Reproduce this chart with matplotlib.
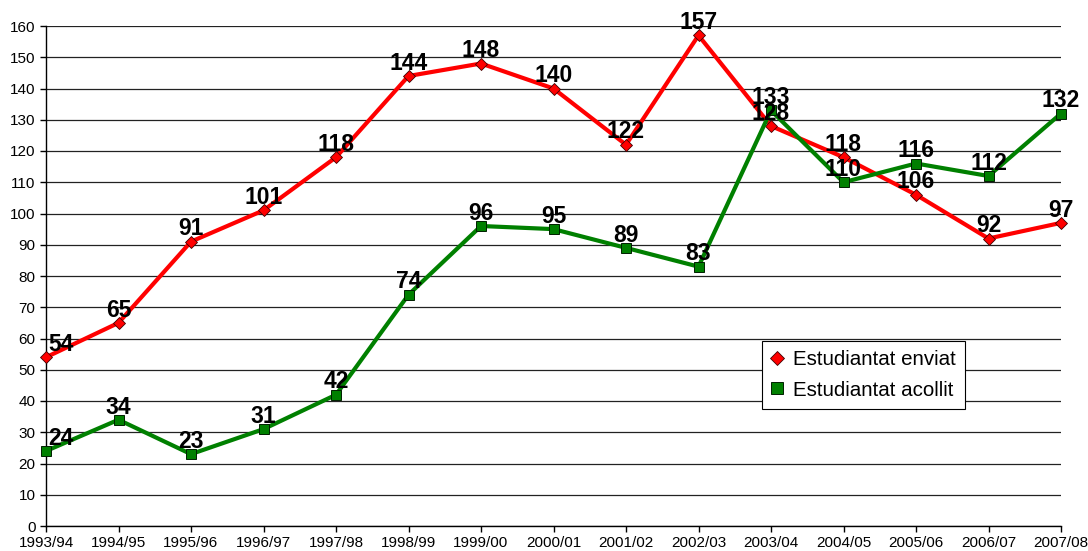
import matplotlib
matplotlib.use("Agg")
import matplotlib.pyplot as plt

# data
years = ["1993/94", "1994/95", "1995/96", "1996/97", "1997/98", "1998/99",
         "1999/00", "2000/01", "2001/02", "2002/03", "2003/04", "2004/05",
         "2005/06", "2006/07", "2007/08"]
enviat = [54, 65, 91, 101, 118, 144, 148, 140, 122, 157, 128, 118, 106, 92, 97]
acollit = [24, 34, 23, 31, 42, 74, 96, 95, 89, 83, 133, 110, 116, 112, 132]

plt.rcParams["font.family"] = ["Liberation Sans", "DejaVu Sans"]

fig = plt.figure(figsize=(10.88, 5.51), dpi=100)
ax = fig.add_axes([46 / 1088, 1 - 526 / 551, (1061 - 46) / 1088, 500 / 551])

x = list(range(len(years)))
ax.plot(x, enviat, color="#FF0000", lw=3, marker="D", ms=6,
        mfc="#FF0000", mec="#400000", mew=0.6, label="Estudiantat enviat",
        zorder=3, clip_on=False)
ax.plot(x, acollit, color="#008000", lw=3, marker="s", ms=7,
        mfc="#008000", mec="#002000", mew=0.7, label="Estudiantat acollit",
        zorder=4, clip_on=False)

# value labels, bold, above each point (first one nudged into the plot)
for series in (enviat, acollit):
    for i, v in enumerate(series):
        dx = 11 if i == 0 else 0
        ax.annotate(str(v), (i, v), xytext=(dx, 4.5), textcoords="offset points",
                    ha="center", va="baseline", fontsize=16.5, fontweight="bold",
                    color="black", zorder=6, annotation_clip=False)

ax.set_xlim(0, len(years) - 1)
ax.set_ylim(0, 160)
ax.set_yticks(range(0, 161, 10))
ax.set_xticks(x)
ax.set_xticklabels(years)
ax.tick_params(axis="both", labelsize=11, direction="out", length=4, width=1,
               color="black")
ax.yaxis.grid(True, color="#222222", lw=0.9)
ax.set_axisbelow(True)
for side in ("top", "right"):
    ax.spines[side].set_visible(False)
for side in ("left", "bottom"):
    ax.spines[side].set_color("black")
    ax.spines[side].set_linewidth(1)

leg = ax.legend(loc="upper left", bbox_to_anchor=((762 - 46) / 1015, (526 - 341) / 500),
                fontsize=14.8, frameon=True, fancybox=False, edgecolor="black",
                framealpha=1, handlelength=0.6, handletextpad=0.45, markerscale=1.15,
                borderpad=0.45, labelspacing=0.55, borderaxespad=0)
leg.get_frame().set_linewidth(0.8)
for h in leg.get_lines():
    h.set_linestyle("none")

fig.savefig("out.png", dpi=100)
